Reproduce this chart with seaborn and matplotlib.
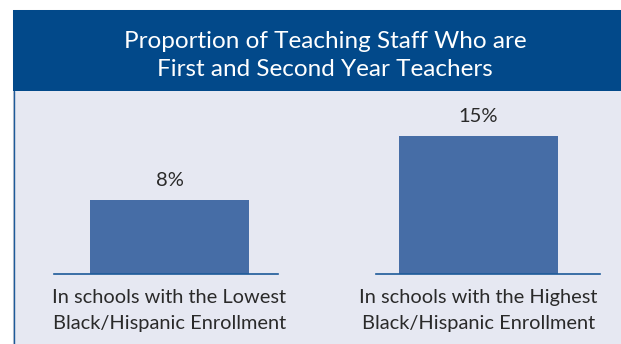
import matplotlib
matplotlib.use("Agg")
import matplotlib.pyplot as plt
from matplotlib.patches import Rectangle
import seaborn as sns
import pandas as pd

# Chart content
title_lines = ["Proportion of Teaching Staff Who are", "First and Second Year Teachers"]
categories = [
    "In schools with the Lowest\nBlack/Hispanic Enrollment",
    "In schools with the Highest\nBlack/Hispanic Enrollment",
]
values = [8, 15]
value_labels = ["8%", "15%"]

# Colours
BAND = "#02498A"
PANEL = "#E6E8F2"
BAR = "#466DA6"
BASE = "#1D5A99"
TEXT = "#2A2A2A"

W, H = 621, 344
sns.set_theme(style="white")
plt.rcParams["font.family"] = ["Lato", "DejaVu Sans"]

fig = plt.figure(figsize=(W / 100, H / 100), dpi=100)
fig.patch.set_facecolor("white")


def fx(px):
    return px / W


def fy(py):
    return 1 - py / H


# Framed panel with a title band on top
fig.patches.append(Rectangle((fx(13), -0.05), 1.0, fy(10) + 0.05, transform=fig.transFigure,
                             facecolor=PANEL, edgecolor="#C9CCD6", linewidth=0.8, zorder=-2))
fig.patches.append(Rectangle((fx(13), fy(91)), 1.0, fy(10) - fy(91), transform=fig.transFigure,
                             facecolor=BAND, edgecolor="none", zorder=-1))
fig.add_artist(plt.Line2D([fx(13.5), fx(13.5)], [-0.05, fy(91)], transform=fig.transFigure,
                          color=BASE, linewidth=1.0))

fig.text(fx(325), fy(41), title_lines[0], ha="center", va="center", color="white", fontsize=17.5)
fig.text(fx(325), fy(70), title_lines[1], ha="center", va="center", color="white", fontsize=17.5)

df = pd.DataFrame({"group": categories, "share": values})

# One small axes per group, each with its own baseline segment
axes_px = [(54, 278, -0.581, 0.546), (376, 600, -0.516, 0.611)]
px_per_unit = 9.2
top_px = 100
ymax = (274 - top_px) / px_per_unit

for i, (left, right, xlo, xhi) in enumerate(axes_px):
    ax = fig.add_axes([fx(left), fy(274), (right - left) / W, (274 - top_px) / H])
    ax.set_zorder(5)
    ax.set_facecolor("none")
    sns.barplot(data=df.iloc[[i]], x="group", y="share", ax=ax, color=BAR,
                saturation=1, width=0.8, edgecolor=BAR, linewidth=0)
    ax.set_xlim(xlo, xhi)
    ax.set_ylim(0, ymax)
    ax.bar_label(ax.containers[0], labels=[value_labels[i]], padding=8,
                 fontsize=14.5, color=TEXT)
    for s in ("left", "top", "right"):
        ax.spines[s].set_visible(False)
    ax.spines["bottom"].set_color(BASE)
    ax.spines["bottom"].set_linewidth(1.2)
    ax.set_yticks([])
    ax.set_xlabel("")
    ax.set_ylabel("")
    ax.tick_params(axis="x", length=0, pad=10.5, labelsize=14.4, labelcolor=TEXT)
    for lab in ax.get_xticklabels():
        lab.set_linespacing(1.68)
        lab.set_ha("center")

fig.savefig("out.png", dpi=100)
